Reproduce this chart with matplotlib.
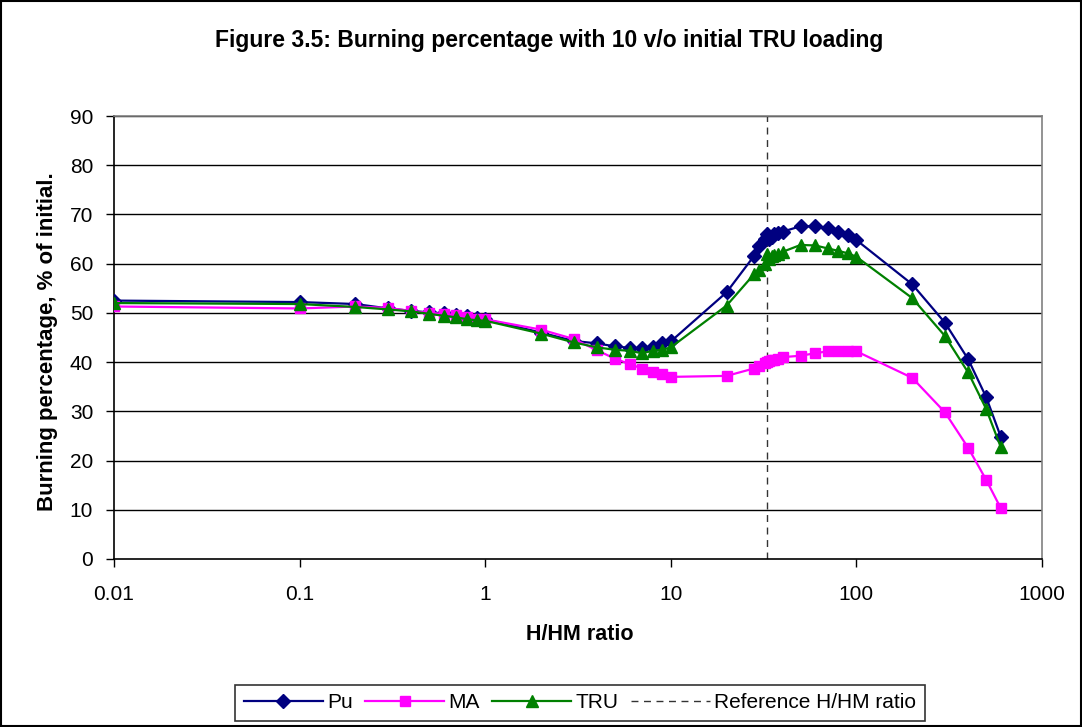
import matplotlib
matplotlib.use("Agg")
import matplotlib.pyplot as plt
from matplotlib.patches import Rectangle

plt.rcParams['font.family'] = ['Liberation Sans', 'DejaVu Sans']

# ---- data ----
h_hm = [0.01, 0.1, 0.2, 0.3, 0.4, 0.5, 0.6, 0.7, 0.8, 0.9, 1, 2, 3, 4, 5, 6, 7, 8, 9, 10,
        20, 28, 30, 32, 33, 34, 35, 36, 38, 40, 50, 60, 70, 80, 90, 100, 200, 300, 400, 500, 600]
pu = [52.5, 52.2, 51.8, 50.9, 50.4, 50.1, 49.9, 49.6, 49.3, 48.9, 48.7, 46.0, 44.3, 43.8, 43.2,
      42.9, 42.8, 43.0, 43.8, 44.2, 54.2, 61.5, 63.5, 65.0, 66.0, 65.0, 65.5, 66.0, 66.2, 66.5,
      67.6, 67.6, 67.2, 66.5, 65.8, 64.8, 55.8, 48.0, 40.6, 32.9, 24.8]
ma = [51.3, 50.9, 51.3, 51.0, 50.4, 50.0, 49.8, 49.5, 49.1, 48.8, 48.7, 46.6, 44.7, 42.4, 40.7,
      39.6, 38.7, 37.9, 37.5, 37.0, 37.2, 38.7, 39.3, 39.8, 40.0, 40.2, 40.4, 40.5, 40.7, 41.0,
      41.3, 41.8, 42.2, 42.2, 42.2, 42.2, 36.8, 29.8, 22.6, 16.1, 10.3]
tru = [52.0, 51.8, 51.2, 50.7, 50.3, 49.8, 49.4, 49.1, 48.7, 48.5, 48.4, 45.8, 44.0, 43.0, 42.5,
       42.3, 41.8, 42.3, 42.5, 43.0, 51.5, 57.8, 58.8, 60.0, 62.0, 61.0, 61.5, 61.8, 62.0, 62.4,
       63.8, 63.7, 63.1, 62.6, 62.1, 61.4, 53.0, 45.3, 37.9, 30.5, 22.7]
reference_ratio = 33
x_ticks = [0.01, 0.1, 1, 10, 100, 1000]
x_tick_labels = ['0.01', '0.1', '1', '10', '100', '1000']
y_ticks = [0, 10, 20, 30, 40, 50, 60, 70, 80, 90]

fig = plt.figure(figsize=(10.82, 7.27), dpi=100)
ax = fig.add_axes([114 / 1082, 1 - 559 / 727, (1042 - 114) / 1082, (559 - 116) / 727])

ax.set_xscale('log')
ax.set_xlim(0.01, 1000)
ax.set_ylim(0, 90)

for yv in y_ticks[1:]:
    ax.axhline(yv, color='black', lw=1.0, zorder=1)

ax.plot(h_hm, pu, color='#000080', lw=1.6, marker='D', ms=7.5, mfc='#000080', mec='#000080',
        label='Pu', zorder=3)
ax.plot(h_hm, ma, color='#FF00FF', lw=1.6, marker='s', ms=7.5, mfc='#FF00FF', mec='#FF00FF',
        label='MA', zorder=4)
ax.plot(h_hm, tru, color='#008000', lw=1.6, marker='^', ms=9, mfc='#008000', mec='#008000',
        label='TRU', zorder=5)
ax.plot([reference_ratio, reference_ratio], [0, 90], color='#333333', lw=1.0,
        linestyle=(0, (5, 4)), label='Reference H/HM ratio', zorder=2)

ax.set_xticks(x_ticks)
ax.set_xticklabels(x_tick_labels)
ax.xaxis.set_minor_locator(matplotlib.ticker.NullLocator())
ax.set_yticks(y_ticks)
ax.tick_params(axis='both', labelsize=15, direction='out', length=6, width=1, color='black')
ax.tick_params(axis='x', pad=13)
ax.tick_params(axis='y', pad=9)

for s in ['top', 'right']:
    ax.spines[s].set_color('#808080')
    ax.spines[s].set_linewidth(1.2)
for s in ['left', 'bottom']:
    ax.spines[s].set_color('black')
    ax.spines[s].set_linewidth(1.2)

fig.text(0.508, 1 - 40 / 727, 'Figure 3.5: Burning percentage with 10 v/o initial TRU loading',
         ha='center', va='center', fontsize=16.5, fontweight='bold')
fig.text(48 / 1082, 1 - 342 / 727, 'Burning percentage, % of initial.', rotation=90,
         ha='center', va='center', fontsize=16, fontweight='bold')
fig.text(580 / 1082, 1 - 635 / 727, 'H/HM ratio', ha='center', va='center',
         fontsize=15.5, fontweight='bold')

leg = fig.legend(loc='center', bbox_to_anchor=(580 / 1082, 1 - 703 / 727), ncol=4,
                 fontsize=15, frameon=True, fancybox=False, edgecolor='black',
                 handlelength=3.8, handletextpad=0.2, columnspacing=0.6,
                 borderpad=0.4, borderaxespad=0)
leg.get_frame().set_linewidth(1.2)

fig.patches.append(Rectangle((0.001, 0.001), 0.998, 0.998, transform=fig.transFigure,
                             fill=False, edgecolor='black', lw=1.5))

fig.savefig('out.png', dpi=100)
